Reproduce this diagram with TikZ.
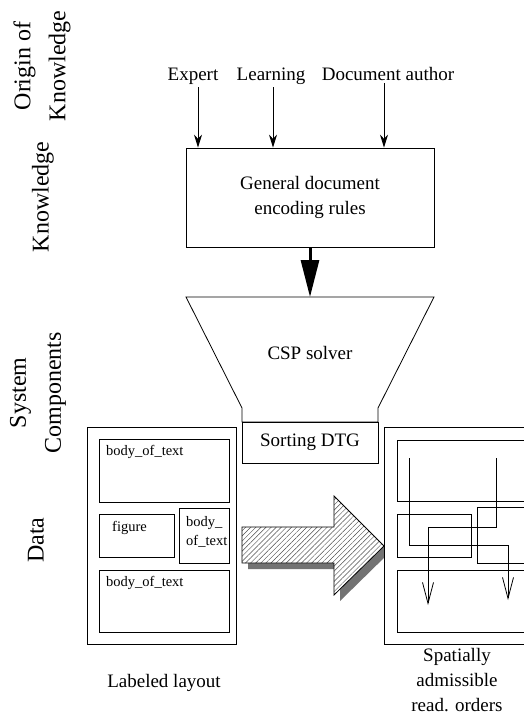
\documentclass[tikz,border=0pt]{standalone}
\usepackage{fontspec}
\setmainfont{Liberation Serif}
\usetikzlibrary{arrows.meta,patterns.meta}

\tikzset{
main/.style={font=\fontsize{19}{25}\selectfont, align=center, inner sep=0pt},
small/.style={font=\fontsize{14.5}{18}\selectfont, inner sep=0pt, anchor=west},
side/.style={font=\fontsize{24}{35}\selectfont, align=center, rotate=90, inner sep=0pt},
thin/.style={line width=0.8pt},
inarrow/.style={thin, -{Stealth[length=13pt,width=8pt]}},
bigarrow/.style={line width=3pt, -{Triangle[length=37pt,width=18pt]}},
readarrow/.style={thin, -{Straight Barb[length=21pt,width=11pt]}},
hatch/.style={thin, pattern={Lines[angle=45,distance=3.6pt,line width=0.45pt]}, pattern color=black!70},
}

\begin{document}
\begin{tikzpicture}[x=1pt,y=-1pt]
% pixel coordinates, y goes down
\useasboundingbox (0,0) rectangle (524,722);
\clip (0,0) rectangle (524,722);
% left row labels
\node[side] (origin) at (42,66) {Origin of\\Knowledge};
\node[side] (know) at (43,197) {Knowledge};
\node[side] (sys) at (38,393) {System\\Components};
\node[side] (data) at (36,540) {Data};
% sources of knowledge
\node[main, anchor=base] (expert) at (193,81) {Expert};
\node[main, anchor=base] (learn) at (271,81) {Learning};
\node[main, anchor=base] (author) at (388,81) {Document author};
\node[main, draw, thin, minimum width=248, minimum height=99] (rules) at (310,197.5)
	{General document\\encoding rules};
\draw[inarrow] ([xshift=5pt,yshift=-2pt]expert.south) -- ([xshift=5pt]expert.south |- rules.north);
\draw[inarrow] ([xshift=2pt,yshift=-2pt]learn.south) -- ([xshift=2pt]learn.south |- rules.north);
\draw[inarrow] ([xshift=-4pt,yshift=-2pt]author.south) -- ([xshift=-4pt]author.south |- rules.north);
% funnel
\coordinate (funneltop) at (310,297);
\draw[thin] (186,297) -- (434,297) -- (378,408) -- (378,422)
	-- (242,422) -- (242,408) -- cycle;
\node[main] (csp) at (310,353) {CSP solver};
\draw[bigarrow] (rules.south) -- (funneltop);
\node[main, draw, thin, minimum width=136, minimum height=41] (dtg) at (310,442.5) {Sorting DTG};
% labeled layout
\draw[thin] (87,427) rectangle (236,644);
	\draw[thin] (99,439) rectangle (229,502);
	\draw[thin] (99,514) rectangle (174,557);
	\draw[thin] (179,508) rectangle (229,563);
	\draw[thin] (99,570) rectangle (229,632);
	\node[small] (bt1) at (106,452) {body\_of\_text};
	\node[small] (fig) at (112,528) {figure};
	\node[small] (bt2a) at (186,523) {body\_};
	\node[small] (bt2b) at (186,541) {of\_text};
	\node[small] (bt3) at (106,583) {body\_of\_text};
\node[main] (lab) at (164,683) {Labeled layout};
% hatched arrow with shadow
\fill[black!55] (248,533) -- (340,533) -- (340,502) -- (390,552) -- (340,601)
	-- (340,569) -- (248,569) -- cycle;
\fill[white] (242,527) -- (334,527) -- (334,496) -- (384,546) -- (334,595)
	-- (334,563) -- (242,563) -- cycle;
\draw[hatch] (242,527) -- (334,527)
	-- (334,496) -- (384,546) -- (334,595) -- (334,563) -- (242,563) -- cycle;
% admissible reading orders
\draw[thin, fill=white] (384,427) rectangle (533,644);
	\draw[thin] (397,440) rectangle (526,501);
	\draw[thin] (397,514) rectangle (471,557);
	\draw[thin] (477,507) rectangle (526,563);
	\draw[thin] (397,570) rectangle (526,632);
	\draw[readarrow] (409,458) -- (409,545) -- (508,545) -- (508,600);
	\draw[readarrow] (496,458) -- (496,527) -- (428,527) -- (428,605);
\node[main] (orders) at (457,680) {Spatially\\admissible\\read. orders};
\end{tikzpicture}
\end{document}
